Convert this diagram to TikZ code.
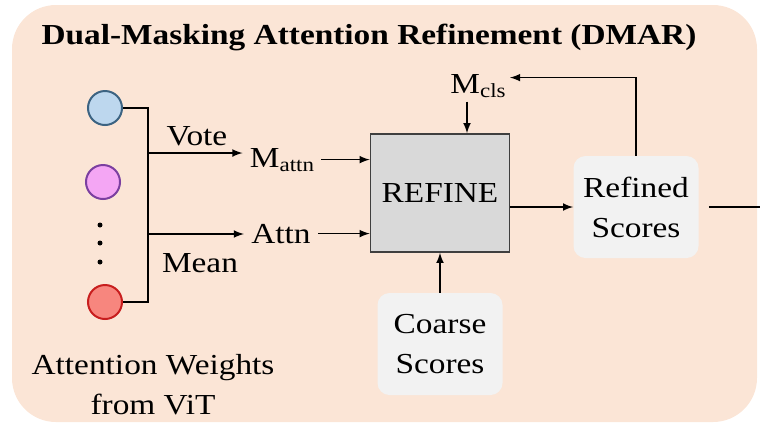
\documentclass[tikz,border=0pt]{standalone}
\usepackage{fontspec}
\setmainfont{Liberation Serif}[FakeStretch=1.15]
\usepackage{tikz}
\usetikzlibrary{arrows,positioning}
\definecolor{panel}{HTML}{FBE5D6}
\definecolor{refinegray}{HTML}{D9D9D9}
\definecolor{scoregray}{HTML}{F2F2F2}
\definecolor{edgegray}{HTML}{3F3F3F}
\definecolor{headblue}{HTML}{BDD7EE}
\definecolor{edgeblue}{HTML}{3C6382}
\definecolor{headpink}{HTML}{F4A6F4}
\definecolor{edgepink}{HTML}{7B3FA0}
\definecolor{headred}{HTML}{F7867E}
\definecolor{edgered}{HTML}{C81E1E}
\newcommand{\lowtext}[1]{\raisebox{-0.3ex}{\fontsize{10}{10}\selectfont #1}}
\tikzset{
  basic/.style  = {font=\fontsize{14.5}{20}\selectfont, inner sep=2pt},
  heading/.style = {basic, font=\fontsize{14.5}{17}\selectfont\bfseries},
  weight/.style = {circle, draw, line width=1pt, minimum size=17pt, inner sep=0pt},
  refine box/.style = {basic, draw=edgegray, fill=refinegray, line width=0.8pt,
                   minimum width=69.5pt, minimum height=59pt},
  score/.style  = {basic, fill=scoregray, rounded corners=6pt, align=center,
                   minimum width=62.5pt, minimum height=51pt},
  flow/.style   = {->, line width=0.75pt}
}
\begin{document}
\begin{tikzpicture}[x=0.5pt,y=-0.5pt,>=latex]
\useasboundingbox (0,0) rectangle (760,425);
\fill[panel, rounded corners=22pt] (12,5) rectangle (757,422);

\node[heading, anchor=base] (title) at (369,44) {Dual-Masking Attention Refinement (DMAR)};

% heads of the ViT, then the dots between them
\foreach \n/\x/\y/\fc/\dc in {1/105/108/headblue/edgeblue, 2/103/182/headpink/edgepink, 3/105/302/headred/edgered}
  \node[weight, fill=\fc, draw=\dc] (w\n) at (\x,\y) {};
\foreach \y in {225,243,262}
  \fill (100,\y) circle (2.5);
\node[basic, align=center] (source) at (153,385) {Attention Weights\\from ViT};

\node[basic, anchor=base] (votetxt) at (197,145) {Vote};
\node[basic, anchor=base] (meantxt) at (200,272) {Mean};
\node[basic, anchor=base, inner sep=3.5pt] (mattn) at (282,167) {M\lowtext{attn}};
\node[basic, anchor=base, inner sep=3.5pt] (attn) at (281,243) {Attn};

\node[refine box] (refine) at (440,193) {REFINE};
\node[basic, anchor=base] (mcls) at (478,93) {M\lowtext{cls}};
\node[score] (refined) at (636,207) {Refined\\Scores};
\node[score] (coarse) at (440,344) {Coarse\\Scores};

\coordinate (bar) at (148,200);
\coordinate (vote) at (148,153);
\coordinate (mean) at (148,234);
\coordinate (exit) at (760,207);

\draw[line width=0.75pt] (w1.east) -| (bar) |- (w3.east);
\draw[flow] (vote) -- (vote -| mattn.west);
\draw[flow] (mean) -- (mean -| attn.west);
\draw[flow] (mattn.east) -- (mattn.east -| refine.west);
\draw[flow] (attn.east) -- (attn.east -| refine.west);
\draw[flow] ([xshift=-5.5pt]mcls.south) -- ([xshift=-5.5pt]mcls.south |- refine.north);
\draw[flow] (coarse) -- (refine);
\draw[flow] (refine.east |- refined.west) -- (refined.west);
\draw[flow] (refined.north) |- ([yshift=4pt]mcls.east);
\draw[line width=0.75pt, shorten <=5pt] (refined.east) -- (exit);

\end{tikzpicture}
\end{document}
